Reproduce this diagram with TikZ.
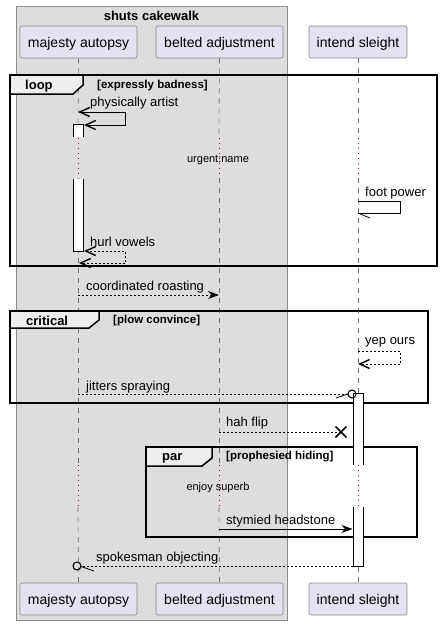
\documentclass[tikz,border=0pt]{standalone}
\usepackage{fontspec}
\setmainfont{Liberation Sans}
\usetikzlibrary{arrows.meta}
\definecolor{grpfill}{HTML}{DDDDDD}
\definecolor{grpline}{HTML}{8C8C8C}
\definecolor{partfill}{HTML}{E2E2F0}
\definecolor{partline}{HTML}{858585}
\definecolor{delaycol}{HTML}{A80036}
\definecolor{tabfill}{HTML}{EEEEEE}
\definecolor{lifecol}{HTML}{707070}
\tikzset{
  openhead/.tip={Straight Barb[length=10pt,width=9pt,line width=1.4pt]},
  fullhead/.tip={Stealth[length=11pt,width=8pt,inset=3.5pt]}
}
\begin{document}
\begin{tikzpicture}[x=1pt,y=-1pt,
  part/.style={draw=partline, fill=partfill, rounded corners=2pt, line width=0.6pt,
    font=\fontsize{14}{16}\selectfont, inner sep=0pt, minimum height=32pt, text depth=1pt, text height=12pt},
  life/.style={draw=lifecol, line width=0.6pt, dash pattern=on 5pt off 5pt},
  delayline/.style={draw=delaycol, line width=0.9pt, dash pattern=on 1pt off 4pt},
  frame/.style={draw=black, line width=1.5pt},
  tabbox/.style={draw=black, fill=tabfill, line width=1.5pt},
  tablabel/.style={font=\bfseries\fontsize{13}{15}\selectfont, inner sep=0pt, anchor=west, yshift=-1pt},
  condlabel/.style={font=\bfseries\fontsize{11.5}{13}\selectfont, inner sep=0pt, anchor=west, yshift=-1pt},
  act/.style={draw=black, line width=0.8pt},
  msg/.style={draw=black, line width=0.8pt},
  dmsg/.style={draw=black, line width=0.8pt, dash pattern=on 2pt off 2pt},
  mlabel/.style={font=\fontsize{13}{15}\selectfont, inner sep=0pt, anchor=west, yshift=-1.5pt},
  dlabel/.style={font=\fontsize{11}{13}\selectfont, inner sep=0pt, yshift=-1pt}
]
\useasboundingbox (0,0) rectangle (441,625);

% group box
\draw[draw=grpline, fill=grpfill, line width=0.8pt] (16,6) rectangle (287,620);
\node[font=\bfseries\fontsize{13}{15}\selectfont, inner sep=0pt, yshift=-1pt] (grpt) at (151.5,15) {shuts cakewalk};

% participants
\node[part, minimum width=117pt] (ma) at (78.5,42) {majesty autopsy};
\node[part, minimum width=127pt] (ba) at (219.5,42) {belted adjustment};
\node[part, minimum width=98pt] (is) at (358,42) {intend sleight};
\node[part, minimum width=117pt] (mab) at (78.5,599) {majesty autopsy};
\node[part, minimum width=127pt] (bab) at (219.5,599) {belted adjustment};
\node[part, minimum width=98pt] (isb) at (358,599) {intend sleight};

% lifelines
\coordinate (maA) at (78,138); \coordinate (maB) at (78,178);
\coordinate (maC) at (78,465); \coordinate (maD) at (78,507);
\coordinate (baA) at (219,138); \coordinate (baB) at (219,178);
\coordinate (baC) at (219,465); \coordinate (baD) at (219,507);
\coordinate (isA) at (358,138); \coordinate (isB) at (358,178);
\coordinate (isC) at (358,465); \coordinate (isD) at (358,507);
\draw[life] (ma.south) -- (maA); \draw[delayline] (maA) -- (maB);
\draw[life] (maB) -- (maC); \draw[delayline] (maC) -- (maD);
\draw[life] (maD) -- (mab.north);
\draw[life] (ba.south) -- (baA); \draw[delayline] (baA) -- (baB);
\draw[life] (baB) -- (baC); \draw[delayline] (baC) -- (baD);
\draw[life] (baD) -- (bab.north);
\draw[life] (is.south) -- (isA); \draw[delayline] (isA) -- (isB);
\draw[life] (isB) -- (isC); \draw[delayline] (isC) -- (isD);
\draw[life] (isD) -- (isb.north);

% frames
\draw[frame] (10,75) rectangle (437,266);
\draw[tabbox] (10,75) -- (83,75) -- (83,85) -- (73,94) -- (10,94) -- cycle;
\node[tablabel] (loopl) at (25,85) {loop};
\node[condlabel] (loopc) at (97,85) {[expressly badness]};

\draw[frame] (10,311) rectangle (428,403);
\draw[tabbox] (10,311) -- (99,311) -- (99,320) -- (89,328) -- (10,328) -- cycle;
\node[tablabel] (critl) at (26,320) {critical};
\node[condlabel] (critc) at (113,320) {[plow convince]};

\draw[frame] (146,447) rectangle (417,537);
\draw[tabbox] (146,447) -- (212,447) -- (212,458) -- (202,466) -- (146,466) -- cycle;
\node[tablabel] (parl) at (162,457) {par};
\node[condlabel] (parc) at (226,456) {[prophesied hiding]};

% activations
\fill[white] (73,124) rectangle (83,137);
\draw[act] (73,137) -- (73,124) -- (83,124) -- (83,137);
\fill[white] (73,179) rectangle (83,251);
\draw[act] (73,179) -- (73,251) -- (83,251) -- (83,179);
\fill[white] (353,393) rectangle (363,465);
\draw[act] (353,465) -- (353,393) -- (363,393) -- (363,465);
\fill[white] (353,507) rectangle (363,566);
\draw[act] (353,507) -- (353,566) -- (363,566) -- (363,507);

% delay texts
\node[dlabel] (d1) at (218,159) {urgent:name};
\node[dlabel] (d2) at (218,487) {enjoy superb};

% messages
\coordinate (m1a) at (78,112); \coordinate (m1b) at (84,125);
\draw[msg, {openhead}-{openhead}] (m1a) -- (125.5,112) -- (125.5,125) -- (m1b);
\node[mlabel] (t1) at (90,102) {physically artist};

\coordinate (m2a) at (358,201); \coordinate (m2b) at (358,213);
\draw[msg] (m2a) -- (400.5,201) -- (400.5,213) -- (m2b);
\draw[msg] (m2b) -- (370,218);
\node[mlabel] (t2) at (365,192) {foot power};

\coordinate (m3a) at (84,251); \coordinate (m3b) at (79,263);
\draw[dmsg, {openhead}-{openhead}] (m3a) -- (125.5,251) -- (125.5,263) -- (m3b);
\node[mlabel] (t3) at (90,240) {hurl vowels};

\coordinate (m4a) at (78,295); \coordinate (m4b) at (219,295);
\draw[dmsg, -{fullhead}] (m4a) -- (m4b);
\node[mlabel] (t4) at (86,286) {coordinated roasting};

\coordinate (m5a) at (358,351); \coordinate (m5b) at (358,364);
\draw[dmsg, -{openhead}] (m5a) -- (400.5,351) -- (400.5,364) -- (m5b);
\node[mlabel] (t5) at (365,341) {yep ours};

\coordinate (m6a) at (78,394); \coordinate (m6b) at (352,394);
\draw[dmsg] (m6a) -- (348,394);
\draw[msg, line width=1.1pt] (m6b) circle (4);
\draw[msg] (336,398) -- (347.5,394);
\node[mlabel] (t6) at (86,386) {jitters spraying};

\coordinate (m7a) at (219,432); \coordinate (m7b) at (341,432);
\draw[dmsg] (m7a) -- (m7b);
\draw[msg, line width=1.5pt] (335.5,426.5) -- (346.5,437.5) (335.5,437.5) -- (346.5,426.5);
\node[mlabel] (t7) at (226,422) {hah flip};

\coordinate (m8a) at (219,529); \coordinate (m8b) at (352.5,529);
\draw[msg, -{fullhead}] (m8a) -- (m8b);
\node[mlabel] (t8) at (226,520) {stymied headstone};

\coordinate (m9a) at (353,566); \coordinate (m9b) at (77,566);
\draw[dmsg] (m9a) -- (81,566);
\draw[msg, line width=1.1pt] (m9b) circle (4);
\draw[msg] (81,566.5) -- (94,571);
\node[mlabel] (t9) at (96,557) {spokesman objecting};
\end{tikzpicture}
\end{document}
